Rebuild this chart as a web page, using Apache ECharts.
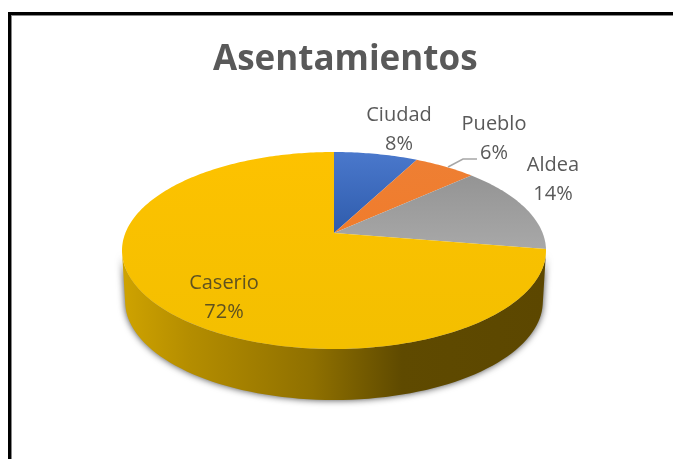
<!DOCTYPE html>
<html><head><meta charset="utf-8">
<style>html,body{margin:0;padding:0;background:#fff}#c{width:673px;height:459px;filter:blur(0.4px)}</style>
<script src="https://cdn.jsdelivr.net/npm/echarts@6/dist/echarts.min.js"></script>
</head><body><div id="c"></div>
<script>
const titleText = 'Asentamientos';
const categories = ['Ciudad', 'Pueblo', 'Aldea', 'Caserio'];
const values = [7.6, 5.6, 14.4, 72.4];

const sliceColors = [
  ['#4a78cc', '#2f5cac'],
  ['#ee7f33', '#f07c2c'],
  ['#949494', '#a8a8a8'],
  ['#fdc200', '#f3bf00']
];
const labelCenters = [[399, 130], [494, 139], [553, 180], [224, 298]];
const labelColors = ['#595959', '#595959', '#595959', '#5f5220'];

// perspective projection of the pie's disc
const cx = 334, apexY = 233, farY = 152, nearY = 349, rimX = 212, depth = 51;
const k = (2 * apexY - farY - nearY) / (nearY - farY);
const a = apexY - farY + farY * k;
const c = rimX * Math.sqrt(1 - k * k);
function project(angle) {
  const u = Math.sin(angle), v = -Math.cos(angle), w = 1 + k * v;
  return [cx + c * u / w, (apexY + a * v) / w];
}
const total = values.reduce((s, v) => s + v, 0);

function wallPoints() {
  const pts = [];
  for (let i = 0; i <= 180; i++) {
    pts.push(project(Math.PI * i / 90));
  }
  const midY = (farY + nearY) / 2;
  const lower = pts.filter(p => p[1] >= midY).sort((p, q) => q[0] - p[0]);
  const squeeze = 0.985;
  const bottom = lower.map(p => [cx + (p[0] - cx) * squeeze, p[1] + depth]);
  return lower.concat(bottom.reverse());
}

function renderItem(params, api) {
  const i = params.dataIndex;
  const before = values.slice(0, i).reduce((s, v) => s + v, 0);
  const start = before / total * Math.PI * 2;
  const end = (before + api.value(0)) / total * Math.PI * 2;
  const pts = [[cx, apexY]];
  const n = Math.max(8, Math.round((end - start) * 60));
  for (let t = 0; t <= n; t++) pts.push(project(start + (end - start) * t / n));
  const colors = sliceColors[i];
  const children = [];
  if (i === 0) {
    children.push({
      type: 'polygon',
      shape: { points: wallPoints() },
      style: {
        fill: new echarts.graphic.LinearGradient(0, 0, 1, 0, [
          { offset: 0, color: '#cfa300' },
          { offset: 0.16, color: '#b48d00' },
          { offset: 0.45, color: '#8f7000' },
          { offset: 0.66, color: '#5f4a00' },
          { offset: 1, color: '#5c4700' }
        ]),
        shadowBlur: 7,
        shadowColor: 'rgba(50,50,50,0.9)'
      }
    });
  }
  children.push({
    type: 'polygon',
    shape: { points: pts },
    style: {
      fill: new echarts.graphic.LinearGradient(0, 0, 0, 1, [
        { offset: 0, color: colors[0] },
        { offset: 1, color: colors[1] }
      ])
    }
  });
  return { type: 'group', children };
}

function renderLabels(params) {
  const i = params.dataIndex;
  const p = labelCenters[i];
  const children = [{
    type: 'text',
    style: {
      x: p[0], y: p[1],
      text: categories[i] + '\n' + Math.round(values[i] / total * 100) + '%',
      font: '20px "Open Sans", sans-serif',
      lineHeight: 29,
      fill: labelColors[i],
      align: 'center',
      verticalAlign: 'middle'
    }
  }];
  if (i === 1) {
    children.push({
      type: 'polyline',
      shape: { points: [[448, 167], [463, 159], [477, 159]] },
      style: { stroke: '#a6a6a6', lineWidth: 1.5, fill: 'none' }
    });
  }
  return { type: 'group', children };
}

const chart = echarts.init(document.getElementById('c'), null, { renderer: 'canvas' });
chart.setOption({
  animation: false,
  backgroundColor: '#ffffff',
  title: {
    text: titleText,
    left: 208,
    top: 38,
    textStyle: { fontFamily: '"Open Sans", sans-serif', fontWeight: 'bold', fontSize: 35, color: '#595959' }
  },
  graphic: [
    { type: 'rect', z: 10, silent: true, shape: { x: 8, y: 12, width: 665, height: 3 }, style: { fill: '#000' } },
    { type: 'rect', z: 10, silent: true, shape: { x: 8, y: 12, width: 3, height: 447 }, style: { fill: '#000' } },
    { type: 'rect', z: 10, silent: true, shape: { x: 11, y: 15, width: 662, height: 1 }, style: { fill: '#888' } },
    { type: 'rect', z: 10, silent: true, shape: { x: 11, y: 15, width: 1, height: 444 }, style: { fill: '#888' } }
  ],
  series: [
    {
      type: 'custom', coordinateSystem: 'none', renderItem, silent: true, z: 2,
      data: values.map((v, i) => ({ name: categories[i], value: [v] }))
    },
    {
      type: 'custom', coordinateSystem: 'none', renderItem: renderLabels, silent: true, z: 3,
      data: values.map((v, i) => ({ name: categories[i], value: [v] }))
    }
  ]
});
</script></body></html>
